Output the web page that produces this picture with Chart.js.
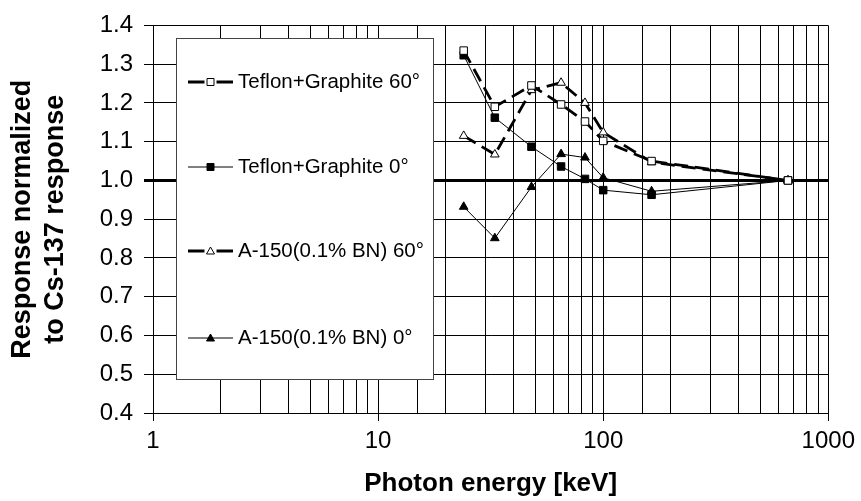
<!DOCTYPE html>
<html>
<head>
<meta charset="utf-8">
<script src="https://cdn.jsdelivr.net/npm/chart.js@4.4.1/dist/chart.umd.min.js"></script>
<style>
  html, body { margin: 0; padding: 0; background: #fff; }
  #wrap { width: 861px; height: 501px; position: relative; }
</style>
</head>
<body>
<div id="wrap"><canvas id="c" width="861" height="501"></canvas></div>
<script>
// ---- data ----
const energies = [24, 33, 48, 65, 83, 100, 164, 662];
const teflon60 = [1.335, 1.190, 1.245, 1.196, 1.152, 1.102, 1.050, 1.000];
const teflon0  = [1.323, 1.162, 1.087, 1.036, 1.004, 0.975, 0.963, 1.000];
const a150_60  = [1.115, 1.067, 1.233, 1.252, 1.200, 1.124, 1.047, 1.000];
const a150_0   = [0.932, 0.851, 0.983, 1.068, 1.059, 1.007, 0.972, 1.000];
const seriesNames = ['Teflon+Graphite 60°', 'Teflon+Graphite 0°', 'A-150(0.1% BN) 60°', 'A-150(0.1% BN) 0°'];
const xTickLabels = [1, 10, 100, 1000];
const yMin = 0.4, yMax = 1.4, yStep = 0.1;

function pts(arr) { return energies.map((e, i) => ({ x: e, y: arr[i] })); }

const DASH = [14, 7];
const datasets = [
  { label: seriesNames[0], data: pts(teflon60), borderColor: '#000', borderWidth: 2.8, borderDash: DASH,
    pointStyle: 'rect', pointRadius: 5.3, pointBackgroundColor: '#fff', pointBorderColor: '#000', pointBorderWidth: 1 },
  { label: seriesNames[1], data: pts(teflon0), borderColor: '#000', borderWidth: 1,
    pointStyle: 'rect', pointRadius: 5.3, pointBackgroundColor: '#000', pointBorderColor: '#000', pointBorderWidth: 1 },
  { label: seriesNames[2], data: pts(a150_60), borderColor: '#000', borderWidth: 2.8, borderDash: DASH,
    pointStyle: 'triangle', pointRadius: 5, pointBackgroundColor: '#fff', pointBorderColor: '#000', pointBorderWidth: 1 },
  { label: seriesNames[3], data: pts(a150_0), borderColor: '#000', borderWidth: 1,
    pointStyle: 'triangle', pointRadius: 5, pointBackgroundColor: '#000', pointBorderColor: '#000', pointBorderWidth: 1 }
];
datasets.forEach(d => { d.showLine = true; d.tension = 0; d.fill = false; d.pointHoverRadius = d.pointRadius; });

const FONT = 'Liberation Sans, Arial, sans-serif';

// legend drawn inside the plot area in a white box
const boxLegend = {
  id: 'boxLegend',
  beforeDatasetsDraw(chart) {
    const ctx = chart.ctx;
    const bx = 176, by = 38, bw = 257, bh = 341;
    ctx.save();
    ctx.fillStyle = '#fff';
    ctx.fillRect(bx, by, bw, bh);
    ctx.strokeStyle = '#444';
    ctx.lineWidth = 1;
    ctx.strokeRect(bx + 0.5, by + 0.5, bw, bh);
    const rows = [82, 167, 251, 338];
    chart.data.datasets.forEach((ds, i) => {
      const y = rows[i];
      const x0 = 188, x1 = 233, xm = (x0 + x1) / 2;
      ctx.strokeStyle = '#000';
      ctx.lineWidth = ds.borderWidth;
      ctx.setLineDash([]);
      ctx.beginPath();
      if (ds.borderDash) {
        ctx.moveTo(x0, y); ctx.lineTo(xm - 6, y);
        ctx.moveTo(xm + 6, y); ctx.lineTo(x1, y);
      } else {
        ctx.moveTo(x0, y); ctx.lineTo(x1, y);
      }
      ctx.stroke();
      ctx.fillStyle = ds.pointBackgroundColor;
      ctx.strokeStyle = '#000';
      ctx.lineWidth = 1;
      ctx.beginPath();
      if (ds.pointStyle === 'rect') {
        ctx.rect(xm - 3.5, y - 3.5, 7, 7);
      } else {
        ctx.moveTo(xm, y - 4); ctx.lineTo(xm + 4, y + 3); ctx.lineTo(xm - 4, y + 3); ctx.closePath();
      }
      ctx.fill(); ctx.stroke();
      ctx.fillStyle = '#000';
      ctx.font = '20.5px ' + FONT;
      ctx.textBaseline = 'middle';
      ctx.textAlign = 'left';
      ctx.fillText(ds.label, 238, y);
    });
    ctx.restore();
  }
};

new Chart(document.getElementById('c'), {
  type: 'scatter',
  data: { datasets },
  options: {
    responsive: false,
    animation: false,
    events: [],
    layout: { padding: { left: 0, top: 22, right: 31, bottom: 0 } },
    plugins: { legend: { display: false }, tooltip: { enabled: false } },
    scales: {
      x: {
        type: 'logarithmic',
        min: 1, max: 1000,
        afterFit(s) { s.height = 88; },
        border: { color: '#000', width: 1 },
        grid: {
          color: '#000', lineWidth: 1, tickLength: 8,
          tickColor: (c) => (c.tick && xTickLabels.includes(c.tick.value)) ? '#000' : 'rgba(0,0,0,0)'
        },
        ticks: {
          color: '#000', font: { family: FONT, size: 24 }, padding: 6, maxRotation: 0, autoSkip: false,
          callback: (v) => xTickLabels.includes(v) ? String(v) : ''
        },
        title: { display: true, text: 'Photon energy [keV]', color: '#000',
          font: { family: FONT, size: 26, weight: 'bold', lineHeight: 1.2 }, padding: { top: 2, bottom: 2 } }
      },
      y: {
        min: yMin, max: yMax,
        afterFit(s) { s.width = 153; },
        border: { color: '#000', width: 1 },
        grid: {
          color: '#000',
          lineWidth: (c) => (c.tick && Math.abs(c.tick.value - 1) < 1e-9) ? 3 : 1,
          tickLength: 9
        },
        ticks: {
          stepSize: yStep, color: '#000', font: { family: FONT, size: 24 }, padding: 11,
          callback: (v) => v.toFixed(1)
        },
        title: { display: true, text: ['Response normalized', 'to Cs-137 response'], color: '#000',
          font: { family: FONT, size: 27, weight: 'bold', lineHeight: 1.22 }, padding: { top: 6.5 } }
      }
    }
  },
  plugins: [boxLegend]
});
</script>
</body>
</html>
